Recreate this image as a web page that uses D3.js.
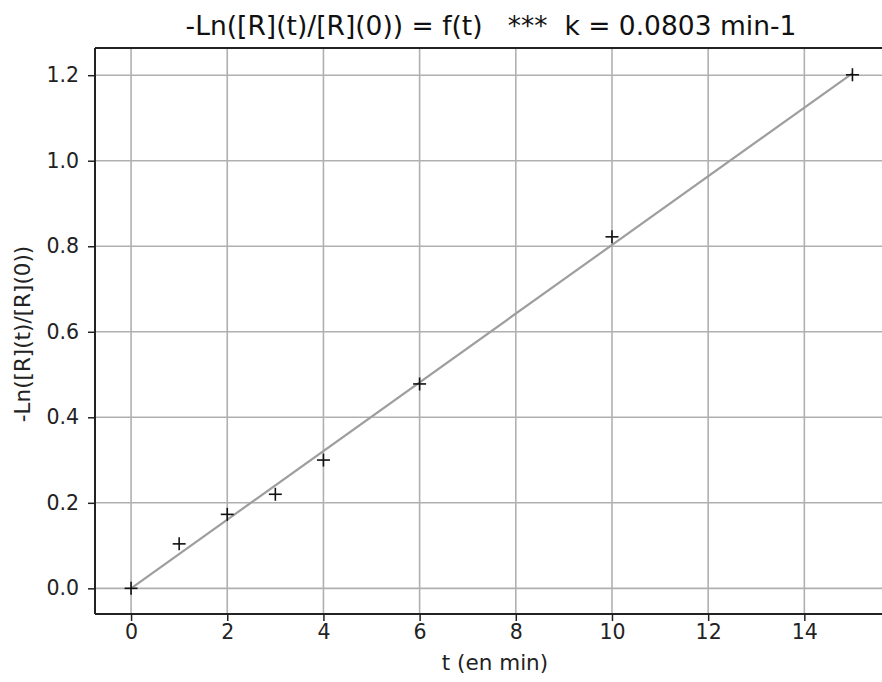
<!DOCTYPE html>
<html><head><meta charset="utf-8">
<script src="https://cdn.jsdelivr.net/npm/d3@7"></script>
<style>body{margin:0;background:#fff;} text{font-family:"DejaVu Sans",sans-serif;}</style>
</head><body>
<svg id="c" width="882" height="682"></svg>
<script>
const tData = [0, 1, 2, 3, 4, 6, 10, 15];
const yData = [0, 0.104, 0.173, 0.22, 0.30, 0.478, 0.822, 1.201];
const fitT = [0, 15];
const fitY = [0, 1.2045];
const xTicks = [0, 2, 4, 6, 8, 10, 12, 14];
const yTicks = [0.0, 0.2, 0.4, 0.6, 0.8, 1.0, 1.2];
const titleText = "-Ln([R](t)/[R](0)) = f(t)   ***  k = 0.0803 min-1";
const xLabel = "t (en min)";
const yLabel = "-Ln([R](t)/[R](0))";

const svg = d3.select("#c");
const L = 95, T = 48, B = 614, R = 888.5;
const x = d3.scaleLinear().domain([-0.75, 15.75]).range([L, R]);
const y = d3.scaleLinear().domain([-0.06, 1.2636]).range([B, T]);

// grid
svg.append("g").selectAll("line").data(xTicks).join("line")
  .attr("x1", d => x(d)).attr("x2", d => x(d)).attr("y1", T).attr("y2", B)
  .attr("stroke", "#b0b0b0").attr("stroke-width", 1.6);
svg.append("g").selectAll("line").data(yTicks).join("line")
  .attr("y1", d => y(d)).attr("y2", d => y(d)).attr("x1", L).attr("x2", R)
  .attr("stroke", "#b0b0b0").attr("stroke-width", 1.6);

// fit line
svg.append("path").datum(fitT.map((t, i) => [t, fitY[i]]))
  .attr("d", d3.line().x(d => x(d[0])).y(d => y(d[1])))
  .attr("fill", "none").attr("stroke", "#9e9e9e").attr("stroke-width", 2.2);

// markers
const ms = 6.5;
const pts = svg.append("g");
tData.forEach((t, i) => {
  const cx = x(t), cy = y(yData[i]);
  pts.append("line").attr("x1", cx - ms).attr("x2", cx + ms).attr("y1", cy).attr("y2", cy).attr("stroke", "#111").attr("stroke-width", 1.6);
  pts.append("line").attr("x1", cx).attr("x2", cx).attr("y1", cy - ms).attr("y2", cy + ms).attr("stroke", "#111").attr("stroke-width", 1.6);
});

// axes
const xAxis = d3.axisBottom(x).tickValues(xTicks).tickFormat(d3.format("d")).tickSize(7).tickPadding(3);
const yAxis = d3.axisLeft(y).tickValues(yTicks).tickFormat(d3.format(".1f")).tickSize(7).tickPadding(9);
const gx = svg.append("g").attr("transform", `translate(0,${B})`).call(xAxis);
const gy = svg.append("g").attr("transform", `translate(${L},0)`).call(yAxis);
[gx, gy].forEach(g => {
  g.select(".domain").remove();
  g.selectAll(".tick line").attr("stroke", "#222").attr("stroke-width", 1.5);
  g.selectAll(".tick text").attr("font-size", 20.5).attr("fill", "#222").style("font-family", "DejaVu Sans");
});

// spines
svg.append("line").attr("x1", L).attr("x2", L).attr("y1", T).attr("y2", B).attr("stroke", "#222").attr("stroke-width", 2);
svg.append("line").attr("x1", L).attr("x2", R).attr("y1", B).attr("y2", B).attr("stroke", "#222").attr("stroke-width", 2);
svg.append("line").attr("x1", L).attr("x2", R).attr("y1", T).attr("y2", T).attr("stroke", "#222").attr("stroke-width", 2);

// labels
svg.append("text").attr("x", 491).attr("y", 35).attr("text-anchor", "middle")
  .attr("font-size", 26.5).attr("fill", "#111").style("white-space", "pre").text(titleText);
svg.append("text").attr("x", 495).attr("y", 670).attr("text-anchor", "middle")
  .attr("font-size", 21.5).attr("fill", "#222").text(xLabel);
svg.append("text").attr("transform", `translate(30,334) rotate(-90)`).attr("text-anchor", "middle")
  .attr("font-size", 21.5).attr("fill", "#222").text(yLabel);
</script>
</body></html>
